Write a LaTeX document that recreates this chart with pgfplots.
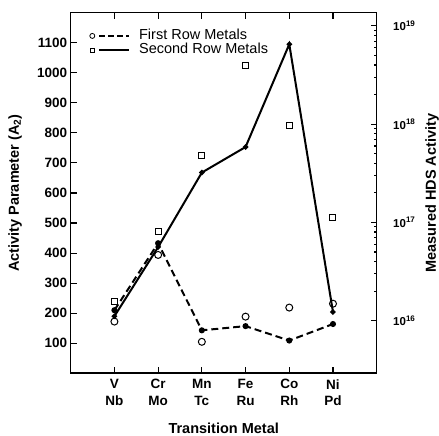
\documentclass[border=0pt]{standalone}
\usepackage{fontspec}
\setmainfont{Liberation Sans}
\usepackage{pgfplots}
\pgfplotsset{compat=1.18}
\begin{document}
\begin{tikzpicture}[x=1pt,y=1pt]
\useasboundingbox (-70.7,-62.7) rectangle (368.3,373.3);
\begin{axis}[
  at={(0,0)}, anchor=south west,
  scale only axis, width=306pt, height=360.6pt,
  xmin=0, xmax=7, ymin=0, ymax=1200,
  xtick={1,2,3,4,5,6},
  xticklabels={{V\\Nb},{Cr\\Mo},{Mn\\Tc},{Fe\\Ru},{Co\\Rh},{Ni\\Pd}},
  xtick pos=both, ytick pos=left, tick align=inside,
  ytick={100,200,...,1100},
  /pgf/number format/assume math mode=true,
  /pgf/number format/1000 sep={},
  yticklabel style={font=\fontsize{13.5}{15}\selectfont\bfseries},
  xticklabel style={font=\fontsize{13.5}{16.5}\selectfont\bfseries, align=center, yshift=-2.5pt},
  axis line style={line width=1.6pt},
  major tick length=6pt,
  every tick/.style={black, line width=1.1pt},
  xlabel={Transition Metal},
  ylabel={Activity Parameter (A\textsubscript{2})},
  label style={font=\fontsize{14.5}{16}\selectfont\bfseries},
  xlabel style={at={(axis description cs:0.5,-0.152)}, anchor=center},
  ylabel style={at={(axis description cs:-0.182,0.5)}, anchor=center},
  legend style={draw=none, fill=none, at={(rel axis cs:0.0605,0.956)}, anchor=north west,
    font=\fontsize{14.5}{15}\selectfont, inner sep=0pt, column sep=8pt, row sep=0pt,
    nodes={inner sep=0.8pt, text height=9.5pt, text depth=3.2pt}},
  legend cell align=left,
]
\addlegendimage{legend image code/.code={
  \draw[line width=0.8pt] (0pt,0pt) circle (2.5pt);
  \draw[line width=1.8pt, dash pattern=on 6pt off 3pt] (7pt,0pt) -- (37pt,0pt);}}
\addlegendentry{First Row Metals}
\addlegendimage{legend image code/.code={
  \draw[line width=0.8pt] (-2.3pt,-2.3pt) rectangle (2.3pt,2.3pt);
  \draw[line width=2pt] (7pt,0pt) -- (37pt,0pt);}}
\addlegendentry{Second Row Metals}
% first row metals (dashed)
\addplot[black, line width=2pt, dash pattern=on 7pt off 4pt, mark=*, mark size=2pt, mark options={solid}]
  coordinates {(1,210) (2,433) (3,143) (4,157) (5,109) (6,164)};
% second row metals (solid)
\addplot[black, line width=2pt, mark=*, mark size=1.6pt]
  coordinates {(1,190) (2,420) (3,668) (4,753) (5,1095) (6,204)};
\end{axis}
\begin{axis}[
  at={(0,0)}, anchor=south west,
  scale only axis, width=306pt, height=360.6pt,
  xmin=0, xmax=7, hide x axis,
  axis y line*=right, ymode=log,
  ymin=2.917e15, ymax=1.365e19,
  ytick={1e16,1e17,1e18,1e19},
  yticklabels={{\textbf{10}\textsuperscript{\textbf{16}}},{\textbf{10}\textsuperscript{\textbf{17}}},{\textbf{10}\textsuperscript{\textbf{18}}},{\textbf{10}\textsuperscript{\textbf{19}}}},
  yticklabel style={font=\fontsize{11.5}{12}\selectfont, xshift=13pt},
  tick align=inside,
  axis line style={line width=1.6pt},
  major tick length=6pt, minor tick length=3pt,
  every tick/.style={black, line width=1.1pt},
  ylabel={Measured HDS Activity},
  label style={font=\fontsize{14.5}{16}\selectfont\bfseries},
  ylabel style={at={(axis description cs:1.181,0.5)}, anchor=center},
]
\addplot[black, only marks, mark=o, mark size=3.5pt, line width=1pt]
  coordinates {(1,9.8e15) (2,4.67e16) (3,6.1e15) (4,1.1e16) (5,1.36e16) (6,1.49e16)};
\addplot[black, only marks, mark=square, mark size=3pt, line width=1pt]
  coordinates {(1,1.56e16) (2,8.05e16) (3,4.75e17) (4,3.92e18) (5,9.6e17) (6,1.13e17)};
\end{axis}
\end{tikzpicture}
\end{document}
